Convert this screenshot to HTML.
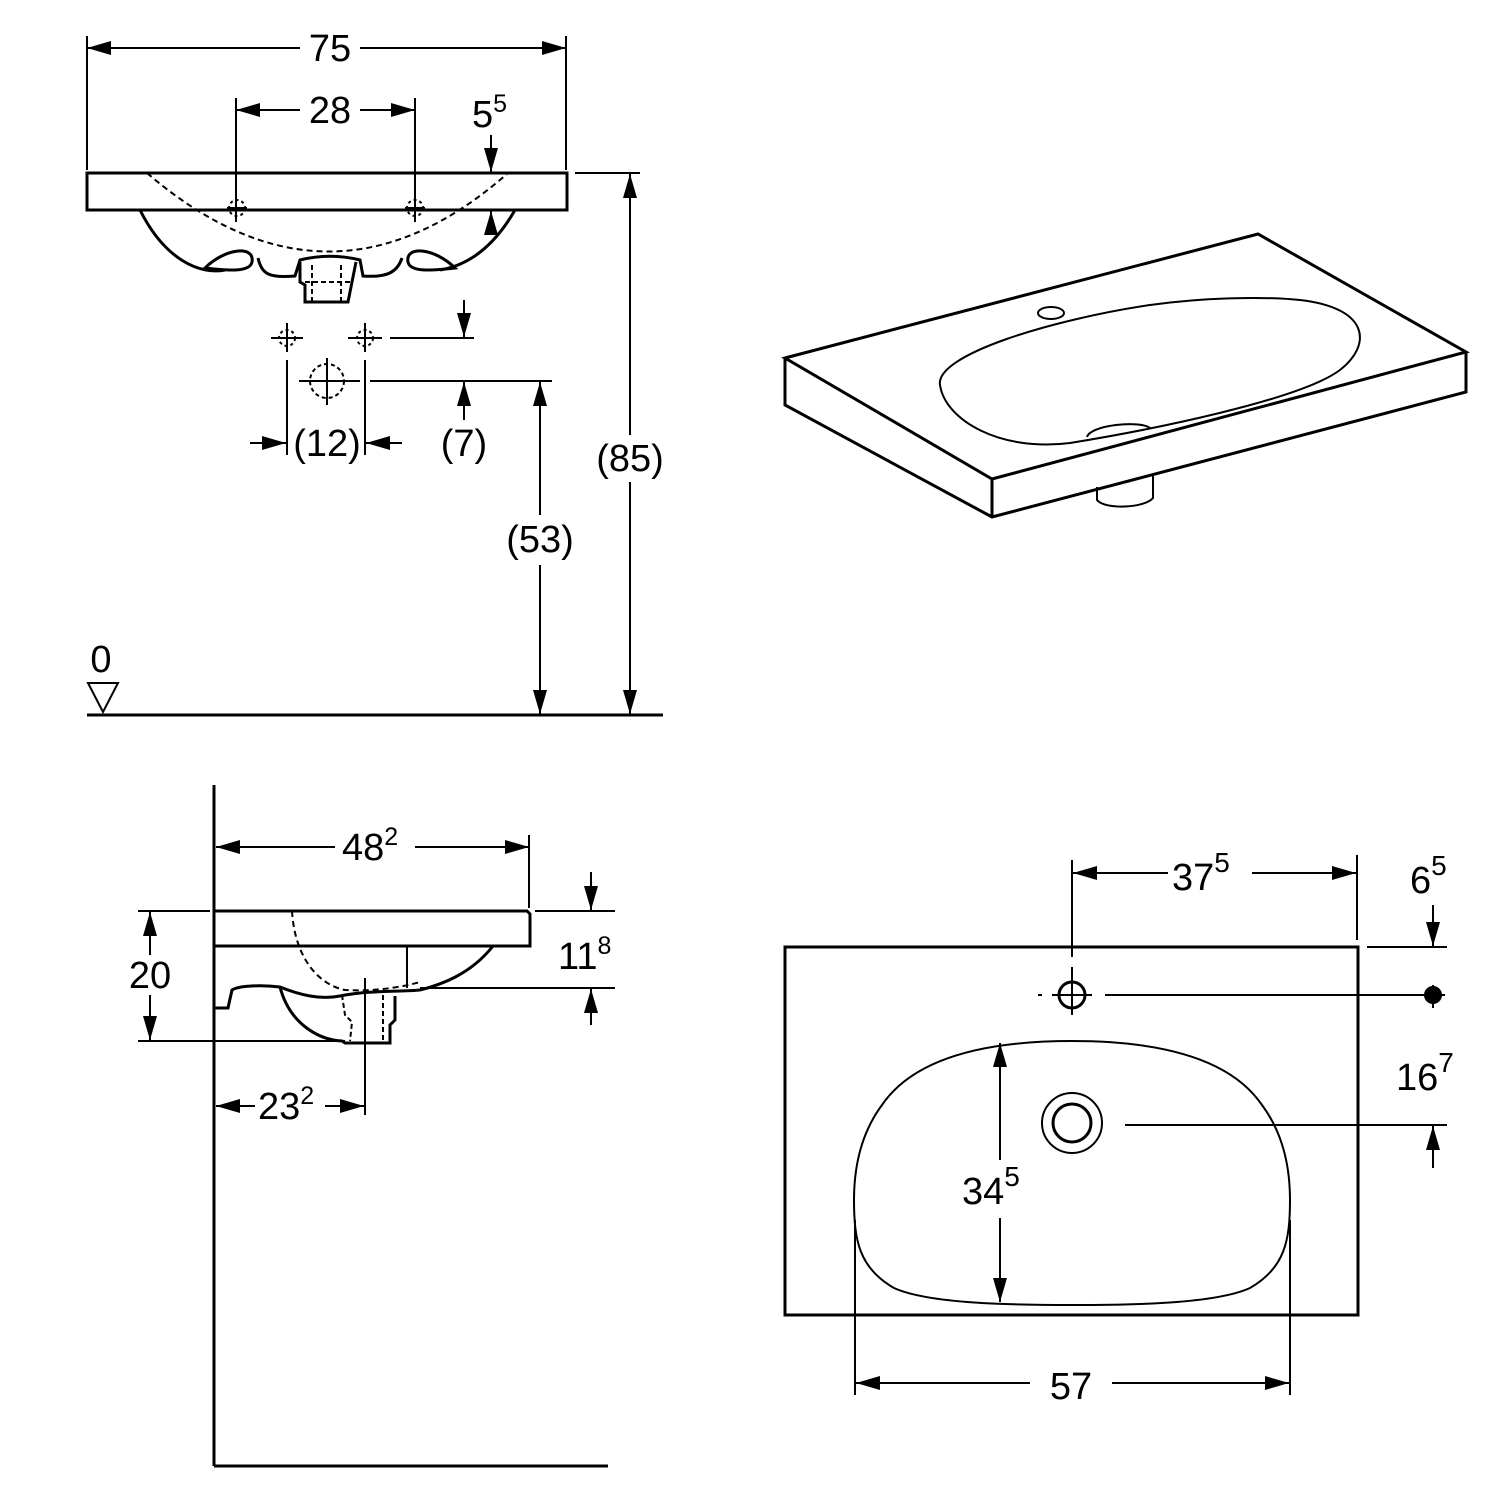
<!DOCTYPE html>
<html><head><meta charset="utf-8"><style>
html,body{margin:0;padding:0;background:#fff;}
svg{display:block;}
text{font-family:"Liberation Sans",sans-serif;font-size:38px;fill:#000;}
</style></head><body>
<svg width="1500" height="1500" viewBox="0 0 1500 1500" xmlns="http://www.w3.org/2000/svg">
<defs>
<marker id="a" viewBox="0 0 24 14" refX="24" refY="7" markerWidth="24" markerHeight="14" markerUnits="userSpaceOnUse" orient="auto"><path d="M0,0 L24,7 L0,14 Z" fill="#000"/></marker>
<marker id="s" viewBox="0 0 24 14" refX="0" refY="7" markerWidth="24" markerHeight="14" markerUnits="userSpaceOnUse" orient="auto"><path d="M24,0 L0,7 L24,14 Z" fill="#000"/></marker>
</defs>
<g fill="none" stroke="#000" stroke-width="2">
<line x1="87" y1="36" x2="87" y2="170"/><line x1="566" y1="36" x2="566" y2="170"/>
<line x1="87" y1="48" x2="300" y2="48" marker-start="url(#s)"/><line x1="360" y1="48" x2="566" y2="48" marker-end="url(#a)"/>
<line x1="236" y1="98" x2="236" y2="222"/><line x1="415" y1="98" x2="415" y2="222"/>
<line x1="236" y1="110" x2="300" y2="110" marker-start="url(#s)"/><line x1="360" y1="110" x2="415" y2="110" marker-end="url(#a)"/>
<line x1="491" y1="135" x2="491" y2="172" marker-end="url(#a)"/>
<line x1="491" y1="232" x2="491" y2="211" marker-end="url(#a)"/>
<rect x="87" y="173" width="480" height="37" stroke-width="3"/>
<line x1="575" y1="173" x2="640" y2="173"/>
<path d="M140,210 C165,260 200,275 225,270 M515,210 C495,245 470,265 440,270" stroke-width="3"/>
<path d="M205,268 C225,248 255,245 252,262 C250,272 230,271 205,268 Z M455,268 C435,248 405,245 408,262 C410,272 430,271 455,268 Z" stroke-width="3"/>
<path d="M258,258 C262,275 270,278 295,276 L300,260 C320,255 340,255 360,260 L363,276 C390,278 398,270 402,258" stroke-width="3"/>
<path d="M300,262 L300,282 L305,285 L305,302 L348,302 L352,282 L356,262" stroke-width="3"/>
<path d="M147,173 Q330,330 508,173" stroke-dasharray="6,4"/>
<path d="M312,265 L312,302 M341,265 L341,302 M305,282 L352,282" stroke-dasharray="5,3"/>
<circle cx="237" cy="208" r="8" stroke-dasharray="3,3"/><circle cx="415" cy="208" r="8" stroke-dasharray="3,3"/>
<line x1="227" y1="208" x2="247" y2="208"/><line x1="405" y1="208" x2="425" y2="208"/>
<circle cx="287" cy="338" r="8" stroke-dasharray="3,3"/><circle cx="365" cy="338" r="8" stroke-dasharray="3,3"/>
<line x1="271" y1="338" x2="303" y2="338"/><line x1="348" y1="338" x2="382" y2="338"/>
<line x1="287" y1="323" x2="287" y2="352"/><line x1="365" y1="323" x2="365" y2="352"/>
<circle cx="327" cy="381" r="17" stroke-dasharray="4,3"/>
<line x1="299" y1="381" x2="360" y2="381"/><line x1="327" y1="358" x2="327" y2="405"/>
<line x1="390" y1="338" x2="474" y2="338"/>
<line x1="464" y1="300" x2="464" y2="337" marker-end="url(#a)"/>
<line x1="370" y1="381" x2="552" y2="381"/>
<line x1="464" y1="420" x2="464" y2="382" marker-end="url(#a)"/>
<line x1="287" y1="360" x2="287" y2="455"/><line x1="365" y1="360" x2="365" y2="455"/>
<line x1="250" y1="443" x2="286" y2="443" marker-end="url(#a)"/>
<line x1="402" y1="443" x2="366" y2="443" marker-end="url(#a)"/>
<line x1="540" y1="382" x2="540" y2="515" marker-start="url(#s)"/><line x1="540" y1="565" x2="540" y2="714" marker-end="url(#a)"/>
<line x1="630" y1="174" x2="630" y2="435" marker-start="url(#s)"/><line x1="630" y1="482" x2="630" y2="714" marker-end="url(#a)"/>
<line x1="87" y1="715" x2="663" y2="715" stroke-width="3"/>
<path d="M88,683 L118,683 L103,712 Z"/>
<path d="M785,358 L1258,234 L1466,352 L992,479 Z" stroke-width="3"/>
<path d="M785,358 L785,405 L992,517 L1466,392 L1466,352 M992,479 L992,517" stroke-width="3"/>
<path d="M940,385 C935,355 1050,320 1150,305 C1200,298 1260,296 1300,300 C1370,308 1372,345 1340,370 C1300,400 1150,430 1070,443 C1000,452 945,420 940,385 Z" stroke-width="2"/>
<ellipse cx="1051" cy="313" rx="13" ry="6"/>
<path d="M1087,437 C1090,425 1140,420 1150,428"/>
<path d="M1097,487 L1097,500 C1105,510 1145,508 1153,498 L1153,476"/>
<line x1="214" y1="785" x2="214" y2="1466" stroke-width="3"/>
<line x1="214" y1="1466" x2="608" y2="1466" stroke-width="3"/>
<path d="M214,911 L527,911 L530,914 L530,946 L214,946" stroke-width="3"/>
<line x1="529" y1="835" x2="529" y2="908"/>
<line x1="216" y1="847" x2="335" y2="847" marker-start="url(#s)"/><line x1="415" y1="847" x2="529" y2="847" marker-end="url(#a)"/>
<line x1="138" y1="911" x2="210" y2="911"/><line x1="138" y1="1041" x2="345" y2="1041"/>
<line x1="150" y1="912" x2="150" y2="955" marker-start="url(#s)"/><line x1="150" y1="995" x2="150" y2="1040" marker-end="url(#a)"/>
<line x1="535" y1="911" x2="615" y2="911"/><line x1="420" y1="988" x2="615" y2="988"/>
<line x1="591" y1="872" x2="591" y2="910" marker-end="url(#a)"/>
<line x1="591" y1="1025" x2="591" y2="989" marker-end="url(#a)"/>
<line x1="407" y1="946" x2="407" y2="988"/>
<path d="M493,946 C470,975 440,985 420,990 M214,1008 L228,1008 L232,990 C240,985 265,985 280,987 C300,995 320,1000 340,996 C370,990 400,992 420,990" stroke-width="3"/>
<path d="M280,987 C290,1025 320,1040 342,1041 L345,1043 L390,1043 L390,1025 L395,1020 L395,996" stroke-width="3"/>
<path d="M292,911 C295,960 320,985 345,990 C380,992 410,985 420,982" stroke-dasharray="6,4"/>
<path d="M342,995 L345,1015 L352,1022 L350,1041 M383,995 L383,1041" stroke-dasharray="5,3"/>
<line x1="365" y1="978" x2="365" y2="1115"/>
<line x1="216" y1="1106" x2="255" y2="1106" marker-start="url(#s)"/><line x1="325" y1="1106" x2="364" y2="1106" marker-end="url(#a)"/>
<rect x="785" y="947" width="573" height="368" stroke-width="3"/>
<line x1="1072" y1="860" x2="1072" y2="957"/><line x1="1072" y1="967" x2="1072" y2="1015"/>
<line x1="1357" y1="855" x2="1357" y2="940"/>
<line x1="1073" y1="873" x2="1168" y2="873" marker-start="url(#s)"/><line x1="1252" y1="873" x2="1356" y2="873" marker-end="url(#a)"/>
<line x1="1367" y1="947" x2="1447" y2="947"/>
<line x1="1433" y1="905" x2="1433" y2="946" marker-end="url(#a)"/>
<circle cx="1072" cy="995" r="13" stroke-width="3"/>
<line x1="1052" y1="995" x2="1092" y2="995"/><line x1="1038" y1="995" x2="1042" y2="995"/>
<line x1="1105" y1="995" x2="1445" y2="995"/>
<circle cx="1433" cy="995" r="8" fill="#000"/>
<line x1="1433" y1="985" x2="1433" y2="1008"/>
<circle cx="1072" cy="1123" r="30"/><circle cx="1072" cy="1123" r="19" stroke-width="3"/>
<line x1="1125" y1="1125" x2="1447" y2="1125"/>
<line x1="1433" y1="1168" x2="1433" y2="1126" marker-end="url(#a)"/>
<path d="M1072,1041 C1160,1041 1230,1058 1262,1105 C1288,1140 1290,1180 1290,1200 C1290,1240 1285,1268 1250,1288 C1215,1304 1130,1305 1072,1305 C1014,1305 929,1304 894,1288 C859,1268 854,1240 854,1200 C854,1180 856,1140 882,1105 C914,1058 984,1041 1072,1041 Z"/>
<line x1="1000" y1="1043" x2="1000" y2="1160" marker-start="url(#s)"/><line x1="1000" y1="1218" x2="1000" y2="1302" marker-end="url(#a)"/>
<line x1="855" y1="1220" x2="855" y2="1395"/><line x1="1290" y1="1220" x2="1290" y2="1395"/>
<line x1="856" y1="1383" x2="1030" y2="1383" marker-start="url(#s)"/><line x1="1112" y1="1383" x2="1289" y2="1383" marker-end="url(#a)"/>
</g>
<g stroke="none">
<text x="330" y="61" text-anchor="middle">75</text>
<text x="330" y="123" text-anchor="middle">28</text>
<text x="472" y="127">5<tspan font-size="25" dy="-15">5</tspan></text>
<text x="327" y="456" text-anchor="middle">(12)</text>
<text x="464" y="456" text-anchor="middle">(7)</text>
<text x="540" y="552" text-anchor="middle">(53)</text>
<text x="630" y="471" text-anchor="middle">(85)</text>
<text x="101" y="672" text-anchor="middle" font-size="34">0</text>
<text x="342" y="860">48<tspan font-size="25" dy="-15">2</tspan></text>
<text x="150" y="988" text-anchor="middle">20</text>
<text x="558" y="969">11<tspan font-size="25" dy="-15">8</tspan></text>
<text x="258" y="1119">23<tspan font-size="25" dy="-15">2</tspan></text>
<text x="1172" y="890" font-size="44">37<tspan font-size="28" dy="-18">5</tspan></text>
<text x="1410" y="893" font-size="44">6<tspan font-size="28" dy="-18">5</tspan></text>
<text x="1396" y="1090" font-size="44">16<tspan font-size="28" dy="-18">7</tspan></text>
<text x="962" y="1204" font-size="46">34<tspan font-size="28" dy="-18">5</tspan></text>
<text x="1071" y="1399" text-anchor="middle" font-size="46">57</text>
</g>
</svg>
</body></html>
